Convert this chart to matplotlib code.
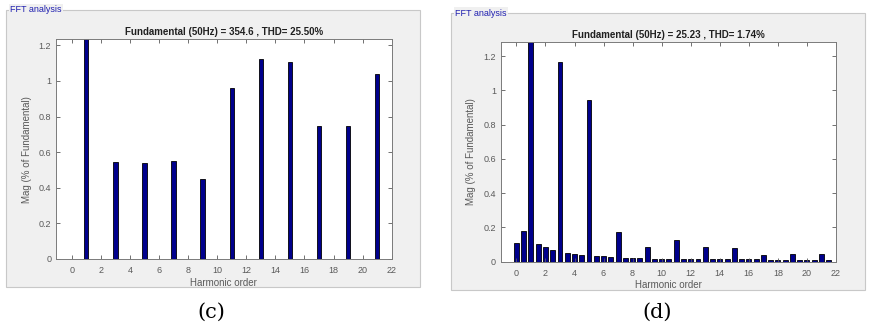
import matplotlib
matplotlib.use("Agg")
import matplotlib.pyplot as plt
from matplotlib.patches import Rectangle
from matplotlib.ticker import FuncFormatter

# (c) odd harmonics only, fundamental is 100 % (clipped by the y range)
harm_c = [1, 3, 5, 7, 9, 11, 13, 15, 17, 19, 21]
mag_c = [100, 0.547, 0.541, 0.552, 0.448, 0.959, 1.122, 1.105, 0.745, 0.745, 1.041]
title_c = "Fundamental (50Hz) = 354.6 , THD= 25.50%"

# (d) every half harmonic
harm_d = [0, 0.5, 1, 1.5, 2, 2.5, 3, 3.5, 4, 4.5, 5, 5.5, 6, 6.5, 7, 7.5,
          8, 8.5, 9, 9.5, 10, 10.5, 11, 11.5, 12, 12.5, 13, 13.5, 14, 14.5,
          15, 15.5, 16, 16.5, 17, 17.5, 18, 18.5, 19, 19.5, 20, 20.5, 21, 21.5]
mag_d = [0.109, 0.179, 100, 0.105, 0.083, 0.070, 1.165, 0.052, 0.043, 0.037,
         0.942, 0.033, 0.033, 0.027, 0.175, 0.023, 0.023, 0.023, 0.083, 0.017,
         0.017, 0.017, 0.126, 0.017, 0.016, 0.014, 0.083, 0.014, 0.015, 0.014,
         0.080, 0.014, 0.015, 0.014, 0.037, 0.010, 0.012, 0.010, 0.043, 0.010,
         0.012, 0.010, 0.043, 0.008]
title_d = "Fundamental (50Hz) = 25.23 , THD= 1.74%"

W, H = 870, 331
BAR_COLOR = "#00008c"
AX_GRAY = "#5a5a5a"

fig = plt.figure(figsize=(W / 100, H / 100), dpi=100)
fig.patch.set_facecolor("white")


def px_rect(x0, y0, x1, y1):
    # pixel box (top-left origin) -> figure fraction [l, b, w, h]
    return [x0 / W, 1 - y1 / H, (x1 - x0) / W, (y1 - y0) / H]


def draw_panel(x0, y0, x1, y1):
    l, b, w, h = px_rect(x0, y0, x1, y1)
    fig.patches.append(Rectangle((l, b), w, h, transform=fig.transFigure,
                                 facecolor="#f0f0f0", edgecolor="#c8c8c8",
                                 linewidth=0.8, zorder=-5))
    fig.text((x0 + 4) / W, 1 - y0 / H, "FFT analysis", color="#2020b0",
             fontsize=6.5, family="Liberation Sans", ha="left", va="center",
             bbox=dict(facecolor="#f0f0f0", edgecolor="none", pad=1))


def draw_fft(rect, harm, mag, title, ytop, width):
    ax = fig.add_axes(rect)
    ax.bar(harm, mag, width=width, color=BAR_COLOR, edgecolor="black", linewidth=0.6)
    ax.set_xlim(-1.08, 22)
    ax.set_ylim(0, ytop)
    ax.set_xticks(range(0, 23, 2))
    ax.set_yticks([0, 0.2, 0.4, 0.6, 0.8, 1.0, 1.2])
    ax.yaxis.set_major_formatter(FuncFormatter(lambda v, p: "%g" % round(v, 1)))
    ax.tick_params(direction="in", top=True, right=True, length=3, width=0.6,
                   colors=AX_GRAY, labelsize=6.5)
    ax.tick_params(axis="x", pad=5)
    ax.tick_params(axis="y", pad=3.5)
    for lab in ax.get_xticklabels() + ax.get_yticklabels():
        lab.set_family("Liberation Sans")
    for s in ax.spines.values():
        s.set_color("#7a7a7a")
        s.set_linewidth(0.7)
    ax.set_facecolor("white")
    ax.set_title(title, fontsize=7, fontweight="bold", family="Liberation Sans",
                 color="#202020", pad=3)
    ax.set_xlabel("Harmonic order", fontsize=7, family="Liberation Sans",
                  color=AX_GRAY, labelpad=2)
    ax.set_ylabel("Mag (% of Fundamental)", fontsize=7, family="Liberation Sans",
                  color=AX_GRAY, labelpad=5)
    return ax


draw_panel(6, 10, 420, 287)
draw_panel(451, 13, 865, 290)

draw_fft(px_rect(56, 39.3, 391.7, 259), harm_c, mag_c, title_c, 1.234, 0.3)
draw_fft(px_rect(500.7, 42.3, 836, 261.7), harm_d, mag_d, title_d, 1.28, 0.34)

fig.text(211.7 / W, 1 - 312.7 / H, "(c)", fontsize=15, family="DejaVu Serif",
         ha="center", va="center")
fig.text(656.7 / W, 1 - 312.7 / H, "(d)", fontsize=15, family="DejaVu Serif",
         ha="center", va="center")

fig.savefig("out.png", dpi=100)
